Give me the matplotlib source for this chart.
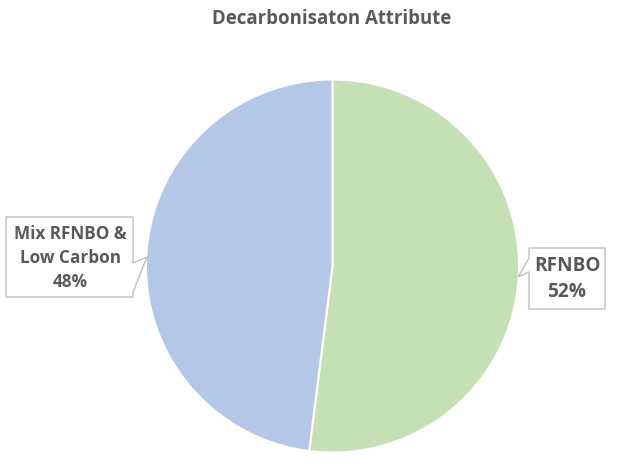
import matplotlib
matplotlib.use('Agg')
import matplotlib.pyplot as plt
from matplotlib.patches import Polygon

# Chart data
labels = ["RFNBO", "Mix RFNBO &\nLow Carbon"]
shares = [52, 48]
colors = ["#c5e0b4", "#b4c7e7"]
title = "Decarbonisaton Attribute"

W, H = 623, 467
fig = plt.figure(figsize=(W / 100, H / 100), dpi=100)
ax = fig.add_axes([0, 0, 1, 1])

def py(y):
    # convert top-based pixel y to axes y
    return H - y

ax.pie(shares, colors=colors, startangle=90, counterclock=False,
       center=(332.5, py(266)), radius=186.5, frame=True,
       wedgeprops=dict(edgecolor="white", linewidth=1.5))
ax.set_xlim(0, W)
ax.set_ylim(0, H)
ax.set_aspect("equal")
ax.axis("off")

text_color = "#595959"
box_edge = "#bfbfbf"
font = ["Open Sans", "DejaVu Sans"]

# callout for the left slice
left_box = [(6, 217), (133, 217), (133, 263), (147, 257), (133, 292), (133, 297), (6, 297)]
ax.add_patch(Polygon([(x, py(y)) for x, y in left_box], closed=True,
                     facecolor="white", edgecolor=box_edge, linewidth=1, zorder=3))
ax.text(70, py(258), f"{labels[1]}\n{shares[1]}%", ha="center", va="center",
        fontsize=12.3, fontweight="bold", color=text_color, family=font,
        linespacing=1.42, zorder=4)

# callout for the right slice
right_box = [(529, 248), (605, 248), (605, 309), (529, 309), (529, 272), (518, 277), (529, 258)]
ax.add_patch(Polygon([(x, py(y)) for x, y in right_box], closed=True,
                     facecolor="white", edgecolor=box_edge, linewidth=1, zorder=3))
ax.text(567, py(279), f"{labels[0]}\n{shares[0]}%", ha="center", va="center",
        fontsize=13.7, fontweight="bold", color=text_color, family=font,
        linespacing=1.35, zorder=4)

ax.text(332, py(19), title, ha="center", va="center", fontsize=13.4,
        fontweight="bold", color=text_color, family=font)

plt.savefig("out.png", dpi=100)
plt.close()
